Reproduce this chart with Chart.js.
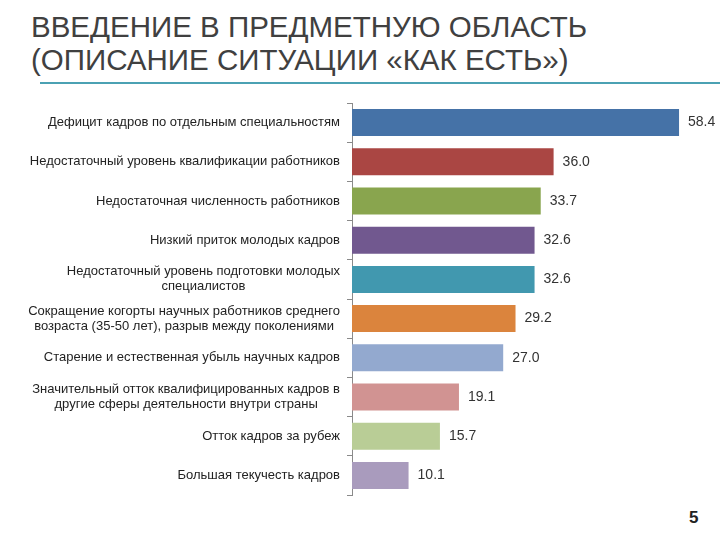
<!DOCTYPE html>
<html>
<head>
<meta charset="utf-8">
<script src="https://cdn.jsdelivr.net/npm/chart.js@4.4.1/dist/chart.umd.min.js"></script>
<style>
  body { margin: 0; background: #fff; width: 720px; height: 540px; position: relative; overflow: hidden; }
  #title {
    position: absolute; left: 31px; top: 10px;
    font-family: "Liberation Sans", Arial, sans-serif; font-size: 29.5px; line-height: 33px;
    color: #404040; white-space: nowrap;
  }
  #rule { position: absolute; left: 40px; top: 82px; width: 680px; height: 2px; background: #4ba1b3; }
  #page { position: absolute; left: 689px; top: 508px; font-family: "Liberation Sans", Arial, sans-serif;
    font-weight: bold; font-size: 17px; color: #222; }
  #wrap { position: absolute; left: 0; top: 95px; width: 720px; height: 410px; }
</style>
</head>
<body>
<div id="title">ВВЕДЕНИЕ В ПРЕДМЕТНУЮ ОБЛАСТЬ<br>(ОПИСАНИЕ СИТУАЦИИ «КАК ЕСТЬ»)</div>
<div id="rule"></div>
<div id="wrap"><canvas id="bars" width="720" height="410"></canvas></div>
<div id="page">5</div>
<script>
const categories = [
    ['Дефицит кадров по отдельным специальностям'],
    ['Недостаточный уровень квалификации работников'],
    ['Недостаточная численность работников'],
    ['Низкий приток молодых кадров'],
    ['Недостаточный уровень подготовки молодых', 'специалистов'],
    ['Сокращение когорты научных работников среднего', 'возраста (35-50 лет), разрыв между поколениями'],
    ['Старение и естественная убыль научных кадров'],
    ['Значительный отток квалифицированных кадров в', 'другие сферы деятельности внутри страны'],
    ['Отток кадров за рубеж'],
    ['Большая текучесть кадров']
];
const values = [58.4, 36.0, 33.7, 32.6, 32.6, 29.2, 27.0, 19.1, 15.7, 10.1];
const barColors = ['#4572A7', '#AA4643', '#89A54E', '#71588F', '#4198AF',
                   '#DB843D', '#93A9CF', '#D19392', '#B9CD96', '#A99BBD'];

const FONT = '"Liberation Sans", Arial, sans-serif';

// category labels: block right-aligned at the axis, lines centered inside the block
const catLabels = {
    id: 'catLabels',
    afterDraw(chart) {
        const ctx = chart.ctx;
        const y = chart.scales.y;
        const right = chart.chartArea.left - 12;
        ctx.save();
        ctx.font = '13px ' + FONT;
        ctx.fillStyle = '#222';
        ctx.textAlign = 'center';
        ctx.textBaseline = 'middle';
        categories.forEach((lines, i) => {
            const cy = y.getPixelForValue(i);
            const w = Math.max(...lines.map(l => ctx.measureText(l).width));
            const lh = 15;
            const top = cy - (lines.length - 1) * lh / 2;
            lines.forEach((l, k) => ctx.fillText(l, right - w / 2, top + k * lh));
        });
        ctx.restore();
    }
};

// value at the end of each bar
const valueLabels = {
    id: 'valueLabels',
    afterDatasetsDraw(chart) {
        const ctx = chart.ctx;
        ctx.save();
        ctx.font = '14px ' + FONT;
        ctx.fillStyle = '#333';
        ctx.textAlign = 'left';
        ctx.textBaseline = 'middle';
        chart.getDatasetMeta(0).data.forEach((bar, i) => {
            ctx.fillText(values[i].toFixed(1), bar.x + 9, bar.y);
        });
        ctx.restore();
    }
};

new Chart(document.getElementById('bars'), {
    type: 'bar',
    data: {
        labels: categories,
        datasets: [{
            data: values,
            backgroundColor: barColors,
            borderWidth: 0,
            barPercentage: 0.69,
            categoryPercentage: 1
        }]
    },
    options: {
        indexAxis: 'y',
        responsive: false,
        animation: false,
        devicePixelRatio: 1,
        layout: { padding: { top: 8, bottom: 10, right: 4, left: 0 } },
        plugins: {
            legend: { display: false },
            tooltip: { enabled: false }
        },
        scales: {
            x: { display: false, min: 0, max: 65 },
            y: {
                afterFit: scale => { scale.width = 352; },
                ticks: { display: false },
                grid: { offset: true, drawOnChartArea: false, tickLength: 5, color: '#8a8a8a' },
                border: { display: true, color: '#8a8a8a', width: 1 }
            }
        }
    },
    plugins: [catLabels, valueLabels]
});
</script>
</body>
</html>
